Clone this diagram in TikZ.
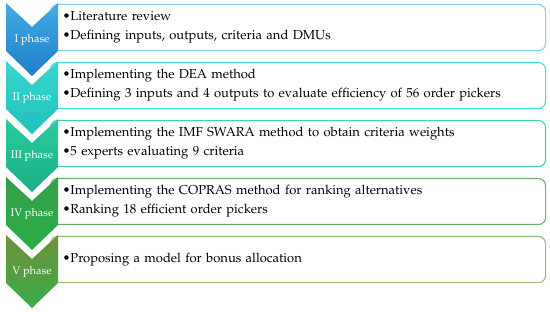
\documentclass[tikz,border=0pt]{standalone}
\usepackage[T1]{fontenc}
\usepackage{mathpazo}
\usepackage{xcolor}
\usepackage{tikz}
\usetikzlibrary{positioning}
\definecolor{chIa}{HTML}{45ACE6}\definecolor{chIb}{HTML}{1E7DC8}
\definecolor{chIIa}{HTML}{3AD6CF}\definecolor{chIIb}{HTML}{1FC0BA}
\definecolor{chIIIa}{HTML}{2CCB9E}\definecolor{chIIIb}{HTML}{1BAF86}
\definecolor{chIVa}{HTML}{359E48}\definecolor{chIVb}{HTML}{2AAE48}
\definecolor{chVa}{HTML}{70903C}\definecolor{chVb}{HTML}{38AC48}
\definecolor{bdI}{HTML}{86CDE5}\definecolor{bdII}{HTML}{3FE0CE}
\definecolor{bdIII}{HTML}{45D0A2}\definecolor{bdIV}{HTML}{6AAE68}
\definecolor{bdV}{HTML}{9AB97C}
\tikzset{phasebox/.style={draw,line width=1.1pt,rounded corners=7pt,anchor=north west,
  minimum width=495pt,minimum height=46pt,text width=471pt,inner xsep=12pt,align=left,
  font=\fontsize{13pt}{19pt}\selectfont},
  phaselab/.style={text=white,font=\fontsize{11pt}{13pt}\selectfont}}

\begin{document}
\begin{tikzpicture}[x=1pt,y=-1pt]
\useasboundingbox(0,0)rectangle(550,312);
\node[phasebox,draw=bdI](b1)at(50,4){\textbullet Literature review\\\textbullet Defining inputs, outputs, criteria and DMUs};
\node[phasebox,draw=bdII](b2)at(50,62){\textbullet Implementing the DEA method\\\textbullet Defining 3 inputs and 4 outputs to evaluate efficiency of 56 order pickers};
\node[phasebox,draw=bdIII](b3)at(50,120){\textbullet Implementing the IMF SWARA method to obtain criteria weights\\\textbullet 5 experts evaluating 9 criteria};
\node[phasebox,draw=bdIV](b4)at(50,178){\textbullet Implementing the COPRAS method for ranking alternatives\\\textbullet Ranking 18 efficient order pickers};
\node[phasebox,draw=bdV](b5)at(50,236){\textbullet Proposing a model for bonus allocation};
%chevrons
\shade[top color=chIa,bottom color=chIb](6,3)--(32,27)--(58,3)--(58,51)--(32,76)--(6,51)--cycle;
\shade[top color=chIIa,bottom color=chIIb](6,61)--(32,85)--(58,61)--(58,109)--(32,134)--(6,109)--cycle;
\shade[top color=chIIIa,bottom color=chIIIb](6,119)--(32,143)--(58,119)--(58,167)--(32,192)--(6,167)--cycle;
\shade[top color=chIVa,bottom color=chIVb](6,177)--(32,201)--(58,177)--(58,225)--(32,250)--(6,225)--cycle;
\shade[top color=chVa,bottom color=chVb](6,235)--(32,259)--(58,235)--(58,283)--(32,308)--(6,283)--cycle;
\node[phaselab](l1)at(32,40){I phase};
\node[phaselab](l2)at(32,98){II phase};
\node[phaselab](l3)at(32,156){III phase};
\node[phaselab](l4)at(32,214){IV phase};
\node[phaselab](l5)at(32,272){V phase};
\end{tikzpicture}
\end{document}
